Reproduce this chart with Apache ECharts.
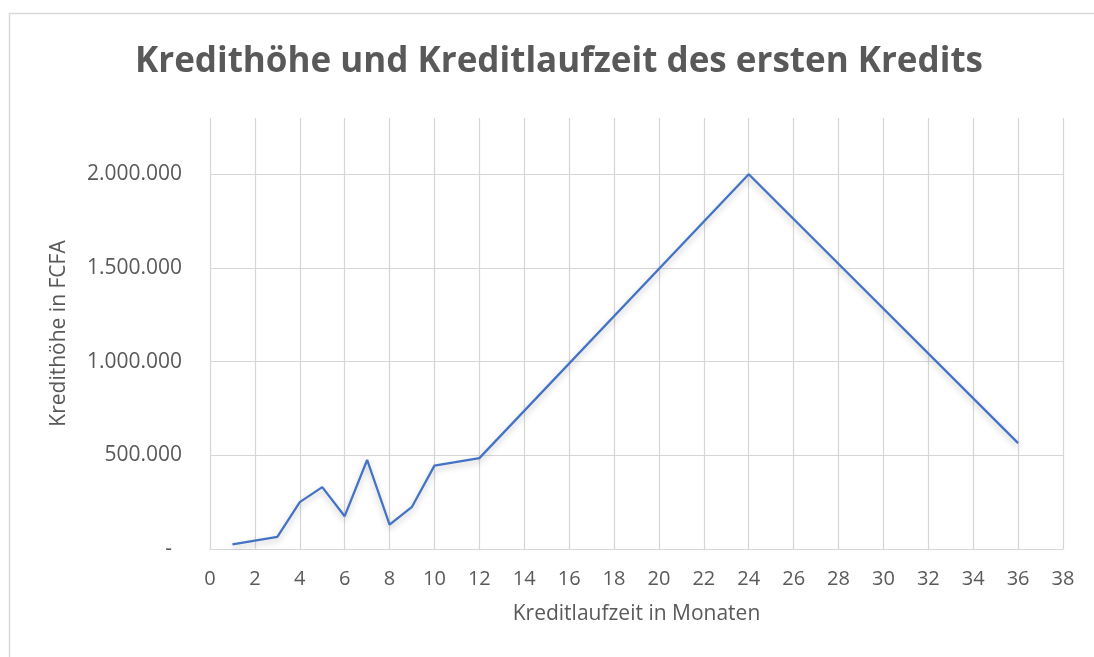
<!DOCTYPE html>
<html>
<head>
<meta charset="utf-8">
<style>
  html, body { margin: 0; padding: 0; background: #ffffff; }
  #chart { width: 1094px; height: 657px; }
</style>
<script src="https://cdn.jsdelivr.net/npm/echarts@6/dist/echarts.min.js"></script>
</head>
<body>
<div id="chart"></div>
<script>
// Data
const months = [1, 3, 4, 5, 6, 7, 8, 9, 10, 12, 24, 36];
const amounts = [25000, 65000, 250000, 330000, 175000, 475000, 130000, 225000, 445000, 485000, 2000000, 565000];

const titleText = 'Kredithöhe und Kreditlaufzeit des ersten Kredits';
const xAxisName = 'Kreditlaufzeit in Monaten';
const yAxisName = 'Kredithöhe in FCFA';

const textColor = '#595959';
const gridColor = '#d6d6d6';
const fontFamily = '"Open Sans", "DejaVu Sans", sans-serif';

function fmtThousands(v) {
  if (v === 0) return '{z|-}';
  return String(Math.round(v)).replace(/\B(?=(\d{3})+(?!\d))/g, '.');
}

const chart = echarts.init(document.getElementById('chart'), null, { renderer: 'canvas' });
chart.setOption({
  backgroundColor: '#ffffff',
  animation: false,
  graphic: [
    {
      type: 'rect',
      shape: { x: 9.5, y: 13.5, width: 1200, height: 800 },
      style: { fill: 'none', stroke: '#d9d9d9', lineWidth: 1.5 },
      silent: true
    },
    {
      type: 'text',
      x: 559,
      y: 62,
      style: {
        text: titleText,
        fill: textColor,
        font: 'bold 35px ' + fontFamily,
        align: 'center',
        verticalAlign: 'middle'
      }
    }
  ],
  grid: { left: 210, right: 31, top: 118, bottom: 108, containLabel: false },
  xAxis: {
    type: 'value',
    min: 0,
    max: 38,
    interval: 2,
    name: xAxisName,
    nameLocation: 'middle',
    nameGap: 55,
    nameTextStyle: { color: textColor, fontSize: 21, fontFamily: fontFamily },
    axisLine: { show: true, lineStyle: { color: gridColor, width: 1.2 } },
    axisTick: { show: false },
    axisLabel: { color: textColor, fontSize: 20, fontFamily: fontFamily, margin: 20 },
    splitLine: { show: true, lineStyle: { color: gridColor, width: 1.2 } }
  },
  yAxis: {
    type: 'value',
    min: 0,
    max: 2300000,
    interval: 500000,
    name: yAxisName,
    nameLocation: 'middle',
    nameGap: 140,
    nameTextStyle: { color: textColor, fontSize: 21, fontFamily: fontFamily },
    axisLine: { show: false },
    axisTick: { show: false },
    axisLabel: {
      color: textColor,
      fontSize: 21,
      fontFamily: fontFamily,
      margin: 28,
      showMaxLabel: false,
      formatter: fmtThousands,
      rich: { z: { color: textColor, fontSize: 21, fontFamily: fontFamily, padding: [0, 10, 0, 0] } }
    },
    splitLine: { show: true, showMaxLine: false, lineStyle: { color: gridColor, width: 1.2 } }
  },
  series: [
    {
      type: 'line',
      data: months.map((m, i) => [m, amounts[i]]),
      showSymbol: false,
      symbol: 'none',
      lineStyle: {
        color: '#4472C4',
        width: 2.25,
        shadowColor: 'rgba(0,0,0,0.25)',
        shadowBlur: 6,
        shadowOffsetY: 3
      },
      itemStyle: { color: '#4472C4' }
    }
  ]
});
</script>
</body>
</html>
